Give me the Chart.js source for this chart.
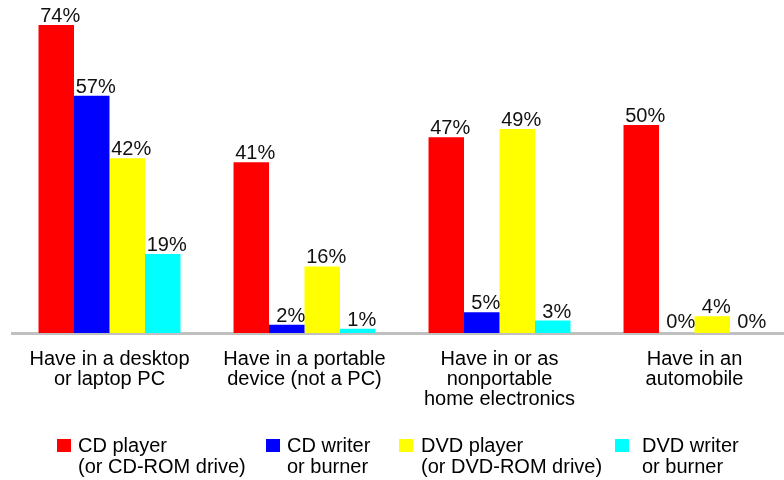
<!DOCTYPE html>
<html>
<head>
<meta charset="utf-8">
<script src="https://cdn.jsdelivr.net/npm/chart.js@4/dist/chart.umd.min.js"></script>
<style>
    html, body { margin: 0; padding: 0; background: #fff; overflow: hidden; }
    #wrap { width: 784px; height: 480px; overflow: hidden; }
</style>
</head>
<body>
<div id="wrap">
    <canvas id="drivesChart" width="800" height="480"></canvas>
</div>
<script>
// Where people have CD / DVD drives (percent of respondents)
const categories = [
    ['Have in a desktop', 'or laptop PC'],
    ['Have in a portable', 'device (not a PC)'],
    ['Have in or as', 'nonportable', 'home electronics'],
    ['Have in an', 'automobile']
];
const seriesNames = [
    ['CD player', '(or CD-ROM drive)'],
    ['CD writer', 'or burner'],
    ['DVD player', '(or DVD-ROM drive)'],
    ['DVD writer', 'or burner']
];
const cdPlayer = [74, 41, 47, 50];
const cdWriter = [57, 2, 5, 0];
const dvdPlayer = [42, 16, 49, 4];
const dvdWriter = [19, 1, 3, 0];

const seriesColors = ['#ff0000', '#0000ff', '#ffff00', '#00ffff'];
const FONT = "'Liberation Sans', Arial, sans-serif";

// Percent labels above every bar
const valueLabels = {
    id: 'valueLabels',
    afterDatasetsDraw(chart) {
        const ctx = chart.ctx;
        const base = chart.scales.y.getPixelForValue(0);
        ctx.save();
        ctx.font = '20px ' + FONT;
        ctx.fillStyle = '#111';
        ctx.textAlign = 'center';
        ctx.textBaseline = 'alphabetic';
        chart.data.datasets.forEach((ds, i) => {
            chart.getDatasetMeta(i).data.forEach((bar, j) => {
                const y = Math.min(bar.y - 3, base - 5);
                ctx.fillText(ds.data[j] + '%', bar.x + 4, y);
            });
        });
        ctx.restore();
    }
};

// Legend row along the bottom, two-line labels
const bottomLegend = {
    id: 'bottomLegend',
    afterDraw(chart) {
        const ctx = chart.ctx;
        const xs = [57, 266, 399, 615];
        const textGap = [21, 21, 22, 27];
        ctx.save();
        ctx.font = '20px ' + FONT;
        ctx.textAlign = 'left';
        ctx.textBaseline = 'alphabetic';
        chart.data.datasets.forEach((ds, i) => {
            ctx.fillStyle = ds.backgroundColor;
            ctx.fillRect(xs[i], 439, 14, 13);
            ctx.fillStyle = '#000';
            ds.label.forEach((line, k) => {
                ctx.fillText(line, xs[i] + textGap[i], 452 + k * 21);
            });
        });
        ctx.restore();
    }
};

const datasets = [cdPlayer, cdWriter, dvdPlayer, dvdWriter].map((values, i) => ({
    label: seriesNames[i],
    data: values,
    backgroundColor: seriesColors[i],
    borderWidth: 0,
    categoryPercentage: 0.728,
    barPercentage: 1.0
}));

new Chart(document.getElementById('drivesChart'), {
    type: 'bar',
    data: { labels: categories, datasets: datasets },
    options: {
        responsive: false,
        animation: false,
        layout: { padding: { left: 12, right: 8, top: 0, bottom: 0 } },
        plugins: {
            legend: { display: false },
            tooltip: { enabled: false }
        },
        scales: {
            x: {
                grid: { display: false, drawTicks: false },
                border: { display: true, color: '#c0c0c0', width: 3 },
                ticks: {
                    color: '#000',
                    padding: 16,
                    maxRotation: 0,
                    autoSkip: false,
                    font: { family: FONT, size: 20, lineHeight: 1.0 }
                },
                afterFit(scale) { scale.height = 147; }
            },
            y: {
                display: false,
                min: 0,
                max: 80
            }
        }
    },
    plugins: [valueLabels, bottomLegend]
});
</script>
</body>
</html>
